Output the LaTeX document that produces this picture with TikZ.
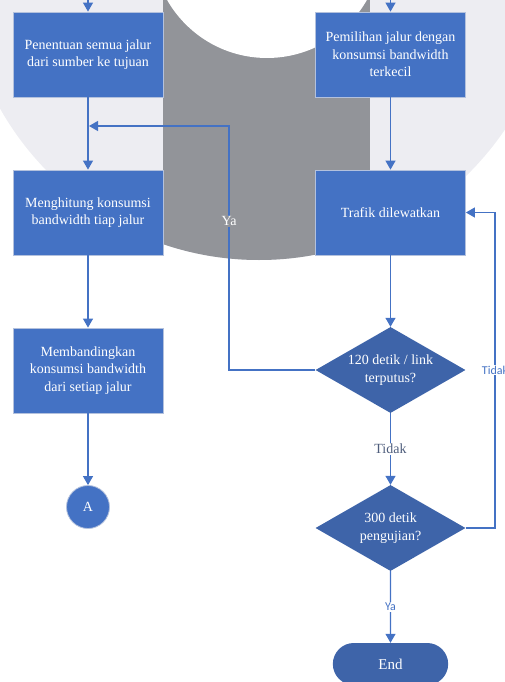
\documentclass[tikz,border=0pt]{standalone}
\usepackage{fontspec}
\setmainfont{Liberation Serif}
\newfontfamily\calfont{Carlito}
\usetikzlibrary{arrows.meta,shapes.geometric,shapes.misc}

\definecolor{boxblue}{HTML}{4472C4}
\definecolor{deciblue}{HTML}{3E64A9}
\definecolor{edgeblue}{HTML}{B3C1DD}
\definecolor{ringbg}{HTML}{EDEDF2}
\definecolor{ringgray}{HTML}{929499}
\definecolor{labgray}{HTML}{4E5D7C}

\begin{document}
\begin{tikzpicture}[
  x=1pt, y=-1pt,
  every node/.style={font=\fontsize{14}{17.5}\selectfont},
  procbox/.style={rectangle, fill=boxblue, draw=edgeblue, line width=0.8pt,
    text=white, minimum width=150pt, minimum height=85pt, align=center, inner sep=2pt},
  decibox/.style={diamond, fill=deciblue, text=white, minimum width=150pt,
    minimum height=86pt, aspect=1.75, inner sep=0pt, align=center},
  connbox/.style={circle, fill=boxblue, draw=edgeblue, line width=0.8pt,
    text=white, minimum size=43pt, inner sep=0pt},
  endbox/.style={rounded rectangle, fill=deciblue, text=white,
    minimum width=122pt, minimum height=42pt, font=\fontsize{15}{18}\selectfont},
  flow/.style={draw=boxblue, line width=1.2pt, -{Triangle[length=9pt,width=10pt]}},
  seriflab/.style={fill=white, text=labgray, inner sep=1pt},
  yalab/.style={fill=ringgray, text=white, inner sep=1pt},
  sanslab/.style={fill=white, text=boxblue, inner sep=1pt,
    font=\calfont\fontsize{12}{14}\selectfont},
]
\pgfmathsetmacro{\colL}{88}    % left column
\pgfmathsetmacro{\colR}{390.5} % right column

% Page frame
\useasboundingbox (0,0) rectangle (505,682);
\clip (0,0) rectangle (505,682);

% Background ring (cut off at the top)
\fill[ringbg] (259,-37) circle[radius=297pt];
\begin{scope}
  \clip (259,-37) circle[radius=297pt];
  \fill[ringgray] (163,-5) rectangle (370,300);
\end{scope}
\fill[white] (267,-57) circle[radius=115pt];

% Left column
\node[procbox] (tentu) at (\colL,54.5) {Penentuan semua jalur\\dari sumber ke tujuan};
\node[procbox] (hitung) at (\colL,212.5) {Menghitung konsumsi\\bandwidth tiap jalur};
\node[procbox] (banding) at (\colL,370.5) {Membandingkan\\konsumsi bandwidth\\dari setiap jalur};
\node[connbox] (conA) at (\colL,507) {A};

% Right column
\node[procbox] (pilih) at (\colR,54.5) {Pemilihan jalur dengan\\konsumsi bandwidth\\terkecil};
\node[procbox] (trafik) at (\colR,212.5) {Trafik dilewatkan};
\node[decibox] (cek120) at (\colR,370) {120 detik / link\\terputus?};
\node[decibox] (cek300) at (\colR,528) {300 detik\\pengujian?};
\node[endbox] (selesai) at (\colR,664) {End};

% Incoming from above
\coordinate (inL) at (\colL,-2);
\coordinate (inR) at (\colR,-2);
\coordinate (join) at (\colL+1,126);
\coordinate (yaTurn) at (229,126);
\coordinate (tidakTurn) at (495,212.5);

% Connectors
\draw[flow] (inL) -- (tentu);
\draw[flow] (inR) -- (pilih);
\draw[flow] (tentu) -- (hitung);
\draw[flow] (hitung) -- (banding);
\draw[flow] (banding) -- (conA);
\draw[flow] (pilih) -- (trafik);
\draw[flow] (trafik) -- (cek120);
\draw[flow] (cek120) -- node[seriflab] {Tidak} (cek300);
\draw[flow] (cek300) -- node[sanslab] {Ya} (selesai);
\draw[flow] (cek120.west) -| node[yalab, pos=0.805] {Ya} (yaTurn) -- (join);
\draw[flow] (cek300.east) -| node[sanslab, pos=0.75] {Tidak} (tidakTurn) -- (trafik.east);

\end{tikzpicture}
\end{document}
